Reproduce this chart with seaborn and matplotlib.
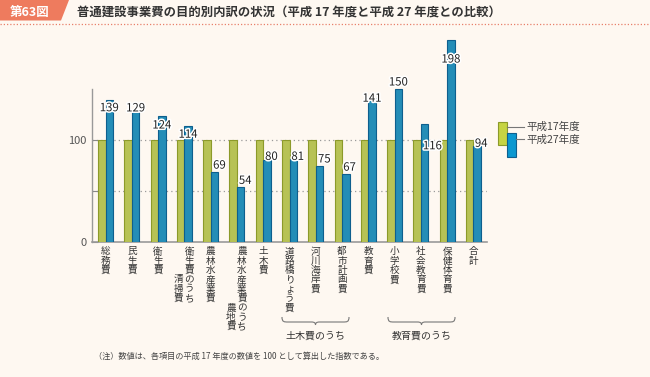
import matplotlib
matplotlib.use("Agg")
import matplotlib.pyplot as plt
import matplotlib.patheffects as pe
from matplotlib.path import Path
from matplotlib.patches import PathPatch, Rectangle, Polygon
from matplotlib.transforms import Affine2D
import seaborn as sns
import pandas as pd

# ---- data ----
categories = ["総務費", "民生費", "衛生費", "衛生費のうち清掃費", "農林水産業費",
              "農林水産業費のうち農地費", "土木費", "道路橋りょう費", "河川海岸費",
              "都市計画費", "教育費", "小学校費", "社会教育費", "保健体育費", "合計"]
# label columns (main column, second column) for vertical text
label_main = ["総務費", "民生費", "衛生費", "衛生費のうち", "農林水産業費",
              "農林水産業費のうち", "土木費", "道路橋りょう費", "河川海岸費",
              "都市計画費", "教育費", "小学校費", "社会教育費", "保健体育費", "合計"]
label_sub = ["", "", "", "清掃費", "", "農地費", "", "", "", "", "", "", "", "", ""]
series_names = ["平成17年度", "平成27年度"]
values_h17 = [100] * 15
values_h27 = [139, 129, 124, 114, 69, 54, 80, 81, 75, 67, 141, 150, 116, 198, 94]
group_labels = ["土木費のうち", "教育費のうち"]
title = "普通建設事業費の目的別内訳の状況（平成 17 年度と平成 27 年度との比較）"
fig_tag = "第63図"
note = "（注）数値は、各項目の平成 17 年度の数値を 100 として算出した指数である。"

# ---- style ----
BG = "#FEF8F1"
GREEN, GREEN_E = "#C6D443", "#8C9A2A"
BLUE, BLUE_E = "#0B98D0", "#0E5F8E"
TXT = "#333333"
FONT = ["Noto Sans CJK JP", "DejaVu Sans"]
plt.rcParams["font.family"] = FONT

W, H = 650, 377
fig = plt.figure(figsize=(W / 100, H / 100), dpi=100, facecolor=BG)
PX = Affine2D().scale(1 / W, -1 / H).translate(0, 1) + fig.transFigure  # top-left pixel coords

ax = fig.add_axes([92.4 / W, (H - 242) / H, (486.6 - 92.4) / W, 204 / H])
ax.set_facecolor("none")

df = pd.DataFrame({
    "cat": categories * 2,
    "val": values_h17 + values_h27,
    "year": [series_names[0]] * len(categories) + [series_names[1]] * len(categories),
})
sns.barplot(data=df, x="cat", y="val", hue="year", palette=[GREEN, BLUE],
            width=0.57, gap=0, ax=ax, legend=False, zorder=3, linewidth=0.8)
n = len(categories)
for i, p in enumerate(ax.patches[:2 * n]):
    p.set_edgecolor(GREEN_E if i < n else BLUE_E)
    p.set_linewidth(0.8)

ax.set_xlim(-0.5, n - 0.5)
ax.set_ylim(0, 200)
ax.set_xlabel("")
ax.set_ylabel("")
ax.set_xticks([])
ax.set_yticks([0, 50, 100])
ax.set_yticklabels(["0", "", "100"])
ax.tick_params(axis="y", direction="in", length=4, width=0.8, color="#888888",
               labelsize=8, labelcolor="#555555", pad=4)
for s in ["top", "right"]:
    ax.spines[s].set_visible(False)
ax.spines["left"].set_bounds(0, 150)
ax.spines["left"].set_color("#999999")
ax.spines["left"].set_linewidth(1.0)
ax.spines["bottom"].set_color("#9A9A9A")
ax.spines["bottom"].set_linewidth(1.2)
for yv in (50, 100):
    ax.axhline(yv, color="#9A9A9A", lw=0.9, ls=(0, (1, 2.5)), zorder=1)

# value labels on H27 bars (offsets in pixels)
lbl_off = [(0, -8), (0, 2), (0, -10), (0, -9), (5, 6), (4.5, 6), (4.5, 3.5), (4.5, 2.5),
           (4.8, 6), (3.8, 6), (0, -0.5), (0, 6.5), (7.8, -22.6), (0, -19.5), (4, 2.3)]
for i, v in enumerate(values_h27):
    dx, dy = lbl_off[i]
    ax.annotate(str(v), xy=(i + 0.1425, v), xytext=(dx, dy), textcoords="offset pixels",
                ha="center", va="center", fontsize=8.2, color="#222222", zorder=5,
                path_effects=[pe.withStroke(linewidth=2.2, foreground="white")])

# vertical category labels
step = 9.35
xt = ax.get_xaxis_transform()
for i in range(n):
    main, sub = label_main[i], label_sub[i]
    mdx = 5 if sub else 0
    for k, ch in enumerate(main):
        ax.annotate(ch, xy=(i, 0), xycoords=xt, xytext=(mdx, -(9.8 + k * step)),
                    textcoords="offset pixels", ha="center", va="center",
                    fontsize=6.9, color=TXT, annotation_clip=False)
    if sub:
        start = len(main) - len(sub)
        for k, ch in enumerate(sub):
            ax.annotate(ch, xy=(i, 0), xycoords=xt, xytext=(-6, -(9.8 + (start + k) * step)),
                        textcoords="offset pixels", ha="center", va="center",
                        fontsize=6.9, color=TXT, annotation_clip=False)

# braces for groups
def brace(x0, x1, y0):
    xc = (x0 + x1) / 2
    h = 5
    verts = [(x0, y0), (x0, y0 + h), (x0 + 2, y0 + h), (x0 + 6, y0 + h),
             (xc - 4, y0 + h),
             (xc - 1, y0 + h), (xc, y0 + h + 1), (xc, y0 + h + 3),
             (xc, y0 + h + 1), (xc + 1, y0 + h), (xc + 4, y0 + h),
             (x1 - 6, y0 + h),
             (x1 - 2, y0 + h), (x1, y0 + h), (x1, y0)]
    codes = [Path.MOVETO, Path.CURVE4, Path.CURVE4, Path.CURVE4, Path.LINETO,
             Path.CURVE4, Path.CURVE4, Path.CURVE4, Path.CURVE4, Path.CURVE4, Path.CURVE4,
             Path.LINETO, Path.CURVE4, Path.CURVE4, Path.CURVE4]
    fig.add_artist(PathPatch(Path(verts, codes), transform=PX, fill=False,
                             edgecolor="#777777", lw=0.8))

brace(282, 349, 317)
brace(388, 455, 317)
fig.text(316 / W, 1 - 336 / H, group_labels[0], ha="center", va="center", fontsize=7.2, color=TXT)
fig.text(422 / W, 1 - 336 / H, group_labels[1], ha="center", va="center", fontsize=7.2, color=TXT)

# legend (drawn manually)
fig.add_artist(Rectangle((498, 122), 9, 23, transform=PX, facecolor=GREEN, edgecolor=GREEN_E, lw=0.8))
fig.add_artist(Rectangle((507, 133), 9, 24, transform=PX, facecolor=BLUE, edgecolor=BLUE_E, lw=0.8))
fig.add_artist(plt.Line2D([507, 524], [127, 127], transform=PX, color="#777777", lw=0.8))
fig.add_artist(plt.Line2D([516, 524], [139, 139], transform=PX, color="#777777", lw=0.8))
fig.text(526 / W, 1 - 127 / H, series_names[0], ha="left", va="center", fontsize=7.6, color="#444444")
fig.text(526 / W, 1 - 139.5 / H, series_names[1], ha="left", va="center", fontsize=7.6, color="#444444")

# header
fig.add_artist(Polygon([(0, 0), (69, 0), (61, 20.5), (0, 20.5)], closed=True, transform=PX,
                       facecolor="#EE7B5E", edgecolor="none"))
fig.text(30 / W, 1 - 12.5 / H, fig_tag, ha="center", va="center", fontsize=9, color="white",
         fontweight="bold")
fig.text(77 / W, 1 - 13 / H, title, ha="left", va="center", fontsize=8.9, color="#333333",
         fontweight="bold")
fig.add_artist(plt.Line2D([0, 650], [23.5, 23.5], transform=PX, color="#E8806A", lw=0.9,
                          ls=(0, (1, 1.6))))

# footnote
fig.text(94 / W, 1 - 356 / H, note, ha="left", va="center", fontsize=5.9, color="#444444")

fig.savefig("out.png", dpi=100, facecolor=BG)
